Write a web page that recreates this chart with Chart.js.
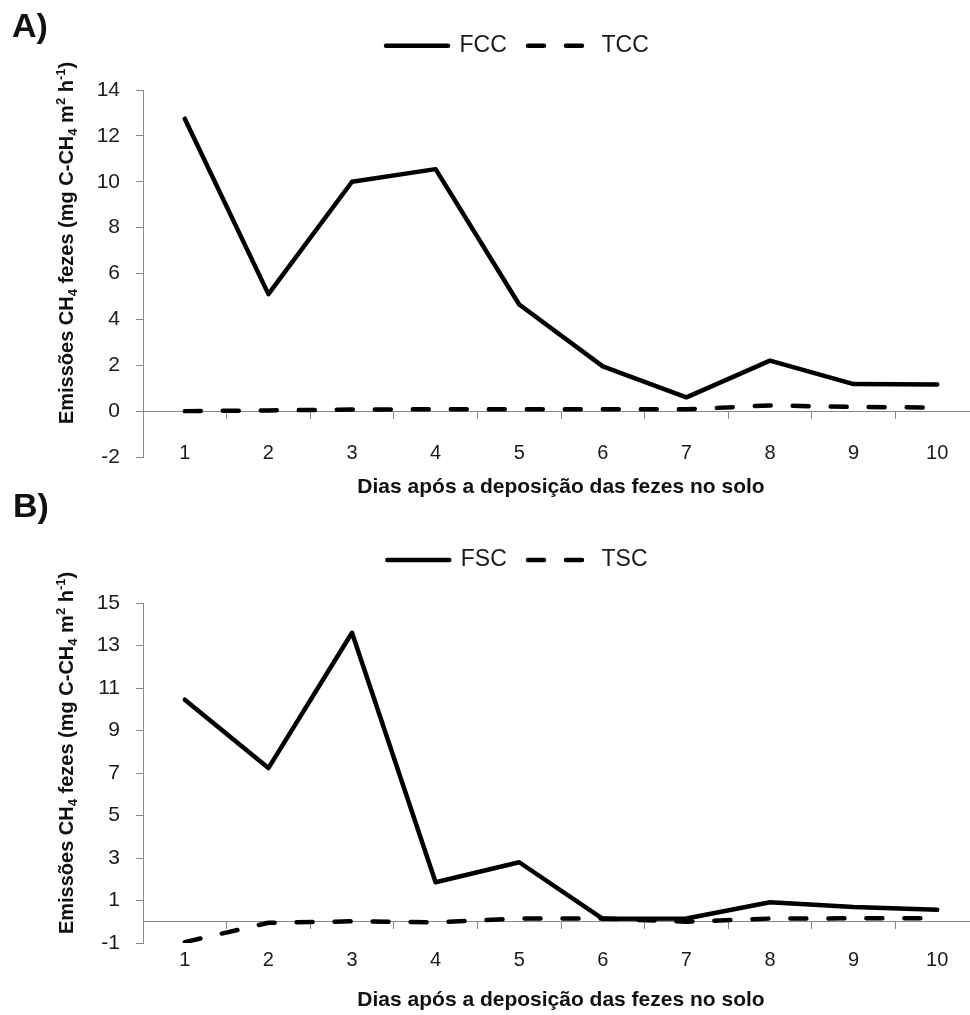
<!DOCTYPE html>
<html><head><meta charset="utf-8">
<script src="https://cdn.jsdelivr.net/npm/chart.js@4.4.1/dist/chart.umd.min.js"></script>
<style>
html,body{margin:0;padding:0;background:#fff;}
#wrap{position:relative;width:970px;height:1015px;overflow:hidden;background:#fff;}
canvas{position:absolute;left:0;}
#cA{top:0}
#cB{top:507px}
.lab{position:absolute;font:bold 34px "Liberation Sans",Arial,sans-serif;line-height:34px;color:#111;}
</style></head><body>
<div id="wrap">
<canvas id="cA" width="985" height="507"></canvas>
<canvas id="cB" width="985" height="508"></canvas>
<div class="lab" style="left:12px;top:8px">A)</div>
<div class="lab" style="left:13px;top:488px">B)</div>
</div>
<script>
const days = ['1','2','3','4','5','6','7','8','9','10'];
const fcc = [12.75, 5.1, 10.0, 10.55, 4.65, 1.95, 0.6, 2.2, 1.18, 1.16];
const tcc = [0.0, 0.03, 0.07, 0.08, 0.08, 0.08, 0.08, 0.25, 0.18, 0.16];
const fsc = [10.45, 7.23, 13.6, 1.86, 2.8, 0.14, 0.15, 0.92, 0.69, 0.56];
const tsc = [-0.96, -0.05, 0.02, -0.03, 0.15, 0.15, 0.0, 0.15, 0.16, 0.16];
const ticksA = [-2, 0, 2, 4, 6, 8, 10, 12, 14];
const ticksB = [-1, 1, 3, 5, 7, 9, 11, 13, 15];
const xTitle = 'Dias após a deposição das fezes no solo';
// [text, kind] kind: 0 normal, 1 subscript, 2 superscript
const yTitleParts = [['Emissões CH',0],['4',1],[' fezes (mg C-CH',0],['4',1],[' m',0],['2',2],[' h',0],['-1',2],[')',0]];

const FAM = '"Liberation Sans", Arial, sans-serif';
Chart.defaults.font.family = FAM;
const TXT = '#1a1a1a';
const AX = '#888888';

const yTitlePlugin = {
  id: 'yTitle',
  afterDraw(chart, args, opts) {
    const ctx = chart.ctx;
    ctx.save();
    const big = 'bold 20px ' + FAM;
    const small = 'bold 13px ' + FAM;
    const w = yTitleParts.map(([t, k]) => { ctx.font = k ? small : big; return ctx.measureText(t).width; });
    const total = w.reduce((a, b) => a + b, 0);
    ctx.translate(opts.x, opts.y);
    ctx.rotate(-Math.PI / 2);
    ctx.fillStyle = '#111';
    ctx.textBaseline = 'alphabetic';
    ctx.textAlign = 'left';
    let x = -total / 2;
    yTitleParts.forEach(([t, k], i) => {
      ctx.font = k ? small : big;
      const dy = k === 1 ? 4 : (k === 2 ? -8 : 0);
      ctx.fillText(t, x, dy);
      x += w[i];
    });
    ctx.restore();
  }
};

const PADL = 55.8;

function makeChart(id, names, solid, dashed, ticks, cfg) {
  return new Chart(document.getElementById(id), {
    type: 'line',
    data: {
      labels: days,
      datasets: [
        { label: names[0], data: solid, borderColor: '#000', backgroundColor: '#000', borderWidth: 4.5,
          pointRadius: 0, tension: 0, borderJoinStyle: 'round', borderCapStyle: 'round' },
        { label: names[1], data: dashed, borderColor: '#000', backgroundColor: '#000', borderWidth: 4.5,
          borderDash: [16, 22], pointRadius: 0, tension: 0, borderJoinStyle: 'round', borderCapStyle: 'round' }
      ]
    },
    plugins: [yTitlePlugin],
    options: {
      responsive: false,
      animation: false,
      events: [],
      layout: { padding: { left: PADL, right: 6, top: cfg.padTop, bottom: cfg.padBottom } },
      plugins: {
        legend: {
          display: true, position: 'top',
          labels: {
            usePointStyle: true, pointStyle: 'line', pointStyleWidth: 62, padding: 21.2,
            color: TXT, font: { size: 23, family: FAM },
            generateLabels: (chart) => {
              const items = Chart.defaults.plugins.legend.labels.generateLabels(chart);
              items.forEach((it) => {
                const ds = chart.data.datasets[it.datasetIndex];
                it.lineDash = ds.borderDash || [];
                it.lineWidth = ds.borderWidth;
                it.lineCap = ds.borderCapStyle;
                it.strokeStyle = ds.borderColor;
              });
              return items;
            }
          }
        },
        title: { display: true, text: '', weight: 500, padding: { top: cfg.spacer, bottom: 0 },
                 font: { size: 1, lineHeight: 1 } },
        tooltip: { enabled: false },
        yTitle: { x: 73, y: cfg.titleY }
      },
      scales: {
        x: {
          type: 'category', offset: true,
          grid: { display: false, drawTicks: false },
          border: { display: false },
          ticks: { display: false },
          title: { display: true, text: xTitle, color: '#111', font: { size: 21, weight: 'bold' },
                   padding: { top: cfg.xtPad, bottom: 0 } }
        },
        xl: {
          type: 'category', axis: 'x', position: { y: ticks[0] }, offset: true,
          grid: { display: false, drawTicks: false },
          border: { display: false },
          ticks: { color: TXT, font: { size: 20 }, padding: cfg.xPad, autoSkip: false, maxRotation: 0, minRotation: 0 }
        },
        x0: {
          type: 'category', axis: 'x', position: { y: 0 }, offset: true,
          grid: { offset: true, drawOnChartArea: false, tickLength: 7, color: AX, lineWidth: 1 },
          border: { display: true, color: AX, width: 1 },
          ticks: { display: false }
        },
        y: {
          type: 'linear', position: 'left', min: ticks[0], max: ticks[ticks.length - 1],
          afterBuildTicks: s => { s.ticks = ticks.map(v => ({ value: v })); },
          afterFit: s => { s.width = 143 - PADL; },
          grid: { drawOnChartArea: false, tickLength: 7, color: AX, tickColor: AX },
          border: { display: true, color: AX, width: 1 },
          ticks: { color: TXT, font: { size: 21 }, padding: 16 }
        }
      }
    }
  });
}

makeChart('cA', ['FCC', 'TCC'], fcc, tcc, ticksA,
  { padTop: 13.1, spacer: 21.7, padBottom: 7.4, xPad: -16, xtPad: 17.4, titleY: 243 });
makeChart('cB', ['FSC', 'TSC'], fsc, tsc, ticksB,
  { padTop: 20.3, spacer: 20.5, padBottom: 2.4, xPad: 5.5, xtPad: 44.4, titleY: 246 });
</script>
</body></html>
